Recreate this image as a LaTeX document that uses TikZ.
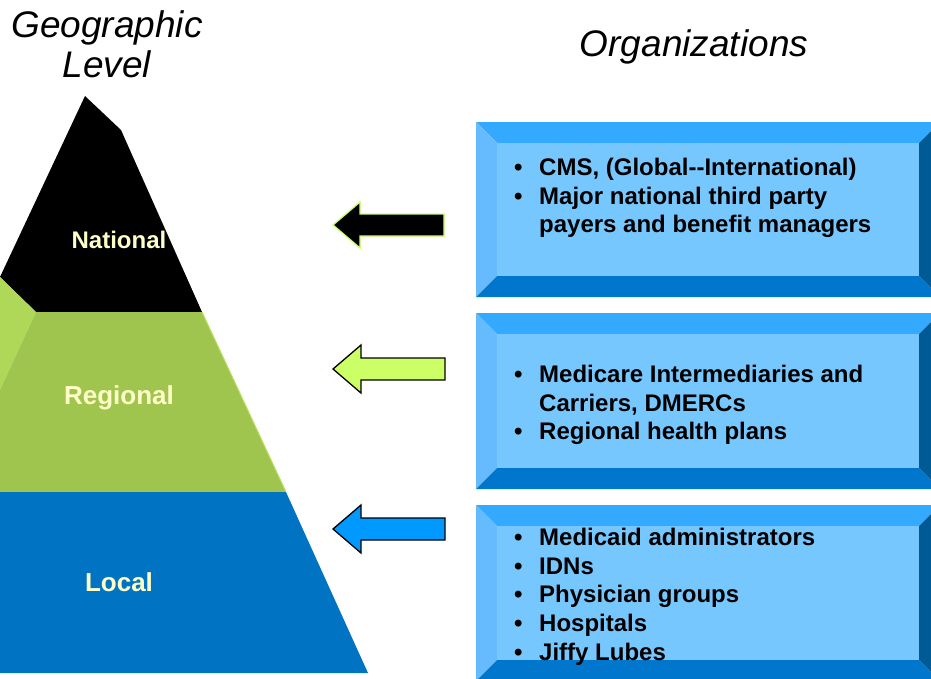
\documentclass[tikz,border=0pt]{standalone}
\usepackage{fontspec}
\setmainfont{Liberation Sans}
\definecolor{tierblack}{HTML}{000000}
\definecolor{tiergreen}{HTML}{9FC54F}
\definecolor{tierside}{HTML}{B0D858}
\definecolor{tieredge}{HTML}{B8E060}
\definecolor{tierblue}{HTML}{0074C2}
\definecolor{labelyellow}{HTML}{FFFFC8}
\definecolor{arrowgreen}{HTML}{CCFF66}
\definecolor{arrowblue}{HTML}{0099FF}
\definecolor{panelface}{HTML}{77C7FF}
\definecolor{paneltop}{HTML}{33AAFF}
\definecolor{panelleft}{HTML}{66BBFF}
\definecolor{panelbottom}{HTML}{0077CC}
\definecolor{panelright}{HTML}{005A96}
% bevelled panel: #1,#2 = outer top-left, #3,#4 = outer bottom-right, #5 = bevel width
\newcommand\orgpanel[5]{%
  \fill[paneltop] (#1,#2) -- (#3,#2) -- (#3-#5,#2+#5) -- (#1+#5,#2+#5) -- cycle;
  \fill[panelleft] (#1,#2) -- (#1+#5,#2+#5) -- (#1+#5,#4-#5) -- (#1,#4) -- cycle;
  \fill[panelbottom] (#1,#4) -- (#1+#5,#4-#5) -- (#3-#5,#4-#5) -- (#3,#4) -- cycle;
  \fill[panelright] (#3,#2) -- (#3,#4) -- (#3-#5,#4-#5) -- (#3-#5,#2+#5) -- cycle;
  \fill[panelface] (#1+#5,#2+#5) rectangle (#3-#5,#4-#5);
}
\tikzset{
  tierlabel/.style={text=labelyellow, font=\fontsize{26}{30}\selectfont\bfseries},
  heading/.style={font=\fontsize{37}{41}\selectfont\itshape, anchor=base},
  orgitem/.style={font=\fontsize{24}{28}\selectfont\bfseries, anchor=base west, inner sep=0pt},
  orgbullet/.style={font=\fontsize{24}{28}\selectfont\bfseries, anchor=base west, inner sep=0pt},
  blockarrow/.style={line width=1.3pt, line join=miter},
}
\begin{document}
\begin{tikzpicture}[x=1pt,y=-1pt]
\useasboundingbox (0,0) rectangle (931,678);
\begin{scope}
\clip (0,0) rectangle (931,678);

% pyramid tiers
\fill[tierblack] (85,96) -- (121,130) -- (202,312) -- (36,312) -- (0,277) -- cycle;
\fill[tierside] (0,277) -- (36,312) -- (0,390) -- cycle;
\fill[tiergreen] (36,312) -- (202,312) -- (286,492) -- (0,492) -- (0,390) -- cycle;
\draw[tieredge, line width=1pt] (202,312) -- (286,492);
\fill[tierblue] (0,492) -- (286,492) -- (368,673) -- (0,673) -- cycle;

\node[tierlabel, font=\fontsize{24}{28}\selectfont\bfseries] (national) at (119,240) {National};
\node[tierlabel] (regional) at (119,398) {Regional};
\node[tierlabel] (local) at (119,582) {Local};

% headings
\node[heading] (geo1) at (107,37) {Geographic};
\node[heading] (geo2) at (107,77) {Level};
\node[heading] (orgs) at (694,56) {Organizations};

% block arrows
\filldraw[blockarrow, fill=black, draw=arrowgreen]
  (333,225) -- (360,202) -- (360,214) -- (444,214) -- (444,236) -- (360,236) -- (360,248) -- cycle;
\filldraw[blockarrow, fill=arrowgreen, draw=black]
  (333,369) -- (361,345) -- (361,358) -- (445,358) -- (445,380) -- (361,380) -- (361,393) -- cycle;
\filldraw[blockarrow, fill=arrowblue, draw=black]
  (333,529) -- (361,505) -- (361,518) -- (445,518) -- (445,540) -- (361,540) -- (361,553) -- cycle;

% organisation panels
\orgpanel{476}{122}{940}{297}{21}
\orgpanel{476}{313}{940}{489}{21}
\orgpanel{476}{505}{940}{681}{21}

% panel 1
\node[orgbullet] (b11) at (514,175) {•};
\node[orgitem] (t11) at (539,175) {CMS, (Global-{}-International)};
\node[orgbullet] (b12) at (514,204) {•};
\node[orgitem] (t12) at (539,204) {Major national third party};
\node[orgitem] (t13) at (539,232) {payers and benefit managers};

% panel 2
\node[orgbullet] (b21) at (514,382) {•};
\node[orgitem] (t21) at (539,382) {Medicare Intermediaries and};
\node[orgitem] (t22) at (539,411) {Carriers, DMERCs};
\node[orgbullet] (b23) at (514,439) {•};
\node[orgitem] (t23) at (539,439) {Regional health plans};

% panel 3
\node[orgbullet] (b31) at (514,545) {•};
\node[orgitem] (t31) at (539,545) {Medicaid administrators};
\node[orgbullet] (b32) at (514,574) {•};
\node[orgitem] (t32) at (539,574) {IDNs};
\node[orgbullet] (b33) at (514,602) {•};
\node[orgitem] (t33) at (539,602) {Physician groups};
\node[orgbullet] (b34) at (514,631) {•};
\node[orgitem] (t34) at (539,631) {Hospitals};
\node[orgbullet] (b35) at (514,660) {•};
\node[orgitem] (t35) at (539,660) {Jiffy Lubes};
\end{scope}
\end{tikzpicture}
\end{document}
